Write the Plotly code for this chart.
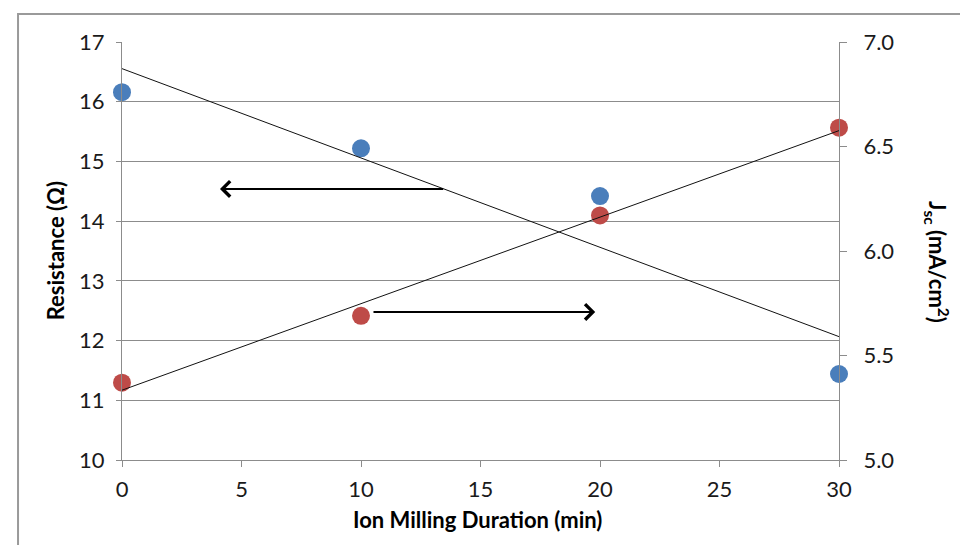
import numpy as np
import plotly.graph_objects as go

# Data
duration = [0, 10, 20, 30]
resistance = [16.16, 15.22, 14.42, 11.44]
jsc = [5.37, 5.69, 6.17, 6.59]
x_ticks = [0, 5, 10, 15, 20, 25, 30]
left_ticks = [10, 11, 12, 13, 14, 15, 16, 17]
right_ticks = [5.0, 5.5, 6.0, 6.5, 7.0]

BLUE = "#4a7ebb"
RED = "#be4b48"
GRID = "#8c8c8c"
FONT = "Lato, Open Sans, Liberation Sans, sans-serif"

# Linear trend lines (least-squares fit)
r_fit = np.polyfit(duration, resistance, 1)
j_fit = np.polyfit(duration, jsc, 1)
fit_x = [0, 30]
r_line = [float(np.polyval(r_fit, v)) for v in fit_x]
j_line = [float(np.polyval(j_fit, v)) for v in fit_x]

fig = go.Figure()
fig.add_trace(go.Scatter(x=duration, y=resistance, mode="markers",
                         marker=dict(color=BLUE, size=18), cliponaxis=False,
                         showlegend=False, yaxis="y"))
fig.add_trace(go.Scatter(x=fit_x, y=r_line, mode="lines",
                         line=dict(color="#111111", width=1),
                         showlegend=False, yaxis="y"))
fig.add_trace(go.Scatter(x=duration, y=jsc, mode="markers",
                         marker=dict(color=RED, size=18), cliponaxis=False,
                         showlegend=False, yaxis="y2"))
fig.add_trace(go.Scatter(x=fit_x, y=j_line, mode="lines",
                         line=dict(color="#111111", width=1),
                         showlegend=False, yaxis="y2"))

tickfont = dict(family=FONT, size=22, color="#1a1a1a")

# page body has an 8px default margin, so the figure is sized/offset to compensate
fig.update_layout(
    width=960, height=537,
    margin=dict(l=114, r=129, t=34, b=85, autoexpand=False),
    paper_bgcolor="white", plot_bgcolor="white",
    xaxis=dict(range=[0, 30], tickvals=x_ticks, showgrid=False, zeroline=False,
               showline=True, linecolor=GRID, linewidth=1,
               ticks="outside", ticklen=6, tickcolor=GRID,
               tickfont=tickfont, ticklabelstandoff=4),
    yaxis=dict(range=[10, 17], tickvals=left_ticks, showgrid=True, gridcolor=GRID,
               gridwidth=1, zeroline=False, showline=True, linecolor=GRID,
               ticks="outside", ticklen=5, tickcolor=GRID,
               tickfont=tickfont, ticklabelstandoff=7),
    yaxis2=dict(range=[5, 7], tickvals=right_ticks, tickformat=".1f",
                overlaying="y", side="right", showgrid=False, zeroline=False,
                showline=True, linecolor=GRID, ticks="outside", ticklen=7,
                tickcolor=GRID, tickfont=tickfont, ticklabelstandoff=12),
)

# Axis titles as annotations
fig.add_annotation(text="<b>Resistance (Ω)</b>", xref="paper", yref="paper",
                   x=-0.093, y=0.5, xanchor="center", yanchor="middle",
                   textangle=-90, showarrow=False,
                   font=dict(family=FONT, size=22, color="#000"))
fig.add_annotation(text="<b>J<sub>sc</sub> (mA/cm<sup>2</sup>)</b>", xref="paper", yref="paper",
                   x=1.136, y=0.475, xanchor="center", yanchor="middle",
                   textangle=90, showarrow=False,
                   font=dict(family=FONT, size=22, color="#000"))
fig.add_annotation(text="<b>Ion Milling Duration (min)</b>", xref="paper", yref="paper",
                   x=0.4965, y=-0.1435, xanchor="center", yanchor="middle",
                   showarrow=False,
                   font=dict(family=FONT, size=22, color="#000"))

# Arrows pointing to the respective axes
fig.add_annotation(x=4.1, y=14.54, ax=13.5, ay=14.54, xref="x", yref="y",
                   axref="x", ayref="y", text="", showarrow=True,
                   arrowhead=4, arrowsize=1.5, arrowwidth=2, arrowcolor="#000",
                   standoff=0, startstandoff=0)
fig.add_annotation(x=19.8, y=12.48, ax=10.46, ay=12.48, xref="x", yref="y",
                   axref="x", ayref="y", text="", showarrow=True,
                   arrowhead=4, arrowsize=1.5, arrowwidth=2, arrowcolor="#000",
                   standoff=0, startstandoff=0)

# Outer chart border
fig.add_shape(type="rect", xref="paper", yref="paper",
              x0=-0.145, y0=-0.3, x1=1.25, y1=1.067,
              line=dict(color="#9a9a9a", width=2), layer="below")

fig.write_html("out.html")
